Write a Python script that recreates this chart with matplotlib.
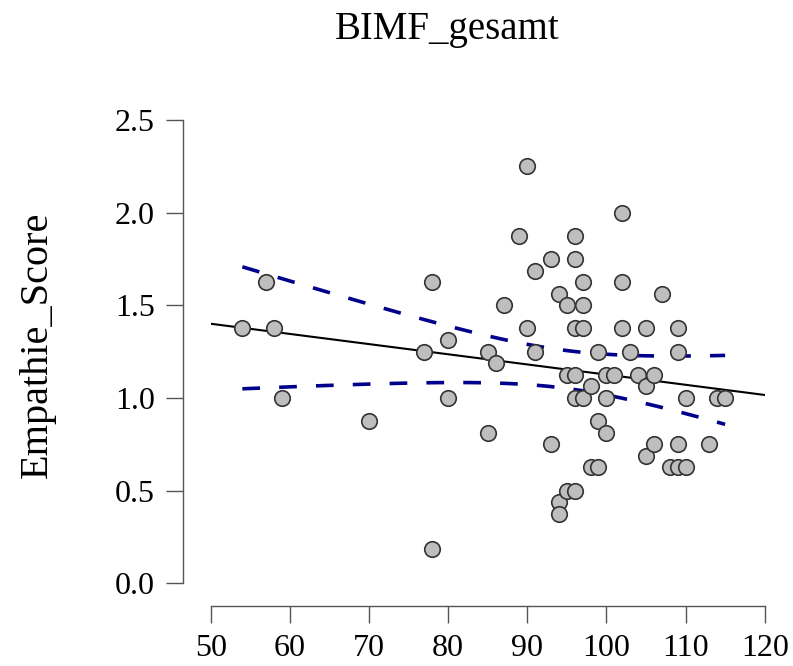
import numpy as np
import matplotlib
matplotlib.use("Agg")
import matplotlib.pyplot as plt

# BIMF_gesamt (x) vs Empathie_Score (y)
bimf = [54, 57, 58, 59, 70, 77, 78, 78, 80, 80,
        85, 85, 86, 87, 89, 90, 90, 91, 91, 93,
        93, 94, 94, 94, 95, 95, 95, 96, 96, 96,
        96, 96, 96, 97, 97, 97, 97, 98, 98, 99,
        99, 99, 100, 100, 100, 101, 102, 102, 102, 103,
        104, 105, 105, 105, 106, 106, 107, 108, 109, 109,
        109, 109, 110, 110, 113, 114, 115]
empathie = [1.375, 1.625, 1.375, 1.0, 0.875, 1.25, 1.625, 0.1875, 1.3125, 1.0,
            1.25, 0.8125, 1.1875, 1.5, 1.875, 2.25, 1.375, 1.6875, 1.25, 1.75,
            0.75, 1.5625, 0.4375, 0.375, 1.5, 1.125, 0.5, 1.875, 1.75, 1.375,
            1.125, 1.0, 0.5, 1.625, 1.5, 1.375, 1.0, 1.0625, 0.625, 1.25,
            0.875, 0.625, 1.125, 1.0, 0.8125, 1.125, 2.0, 1.625, 1.375, 1.25,
            1.125, 1.375, 1.0625, 0.6875, 1.125, 0.75, 1.5625, 0.625, 1.375, 1.25,
            0.75, 0.625, 1.0, 0.625, 0.75, 1.0, 1.0]

x_ticks = [50, 60, 70, 80, 90, 100, 110, 120]
y_ticks = [0.0, 0.5, 1.0, 1.5, 2.0, 2.5]
y_ticklabels = ["0.0", "0.5", "1.0", "1.5", "2.0", "2.5"]

plt.rcParams["font.family"] = ["Liberation Serif", "DejaVu Serif"]

x = np.array(bimf, dtype=float)
y = np.array(empathie, dtype=float)
n = len(x)
slope, intercept = np.polyfit(x, y, 1)
resid = y - (intercept + slope * x)
s = np.sqrt(np.sum(resid ** 2) / (n - 2))
sxx = np.sum((x - x.mean()) ** 2)
t_crit = 1.997  # t(0.975, df=65)

fig = plt.figure(figsize=(7.93, 6.66), dpi=100)
ax = fig.add_axes([210.7 / 793, (666 - 583.3) / 666, 554 / 793, 463.3 / 666])

# regression line over full axis range
xl = np.linspace(x_ticks[0], x_ticks[-1], 100)
ax.plot(xl, intercept + slope * xl, color="black", lw=1.5, zorder=3)

# confidence band over data range
xc = np.linspace(x.min(), x.max(), 100)
fit = intercept + slope * xc
se = s * np.sqrt(1 / n + (xc - x.mean()) ** 2 / sxx)
for band in (fit + t_crit * se, fit - t_crit * se):
    ax.plot(xc, band, color="#00008B", lw=2.6, dashes=(4.9, 5.3), zorder=2)

ax.scatter(x, y, s=125, facecolor="#BEBEBE", edgecolor="#333333",
           linewidth=1.2, zorder=4, clip_on=False)

ax.set_xlim(x_ticks[0], x_ticks[-1])
ax.set_ylim(y_ticks[0], y_ticks[-1])
ax.set_xticks(x_ticks)
ax.set_yticks(y_ticks)
ax.set_yticklabels(y_ticklabels)

for side in ("top", "right"):
    ax.spines[side].set_visible(False)
ax.spines["left"].set_position(("outward", 19.7))
ax.spines["bottom"].set_position(("outward", 16.3))
for side in ("left", "bottom"):
    ax.spines[side].set_color("#555555")
    ax.spines[side].set_linewidth(1.0)
ax.tick_params(axis="both", length=12.5, width=1.0, color="#555555",
               labelsize=23, labelcolor="black", pad=8)

fig.text(447 / 793, 1 - 30 / 666, "BIMF_gesamt", ha="center", va="center",
         fontsize=28)
fig.text(37 / 793, 1 - 345 / 666, "Empathie_Score", ha="center", va="center",
         rotation=90, fontsize=29)

fig.savefig("out.png", dpi=100)
